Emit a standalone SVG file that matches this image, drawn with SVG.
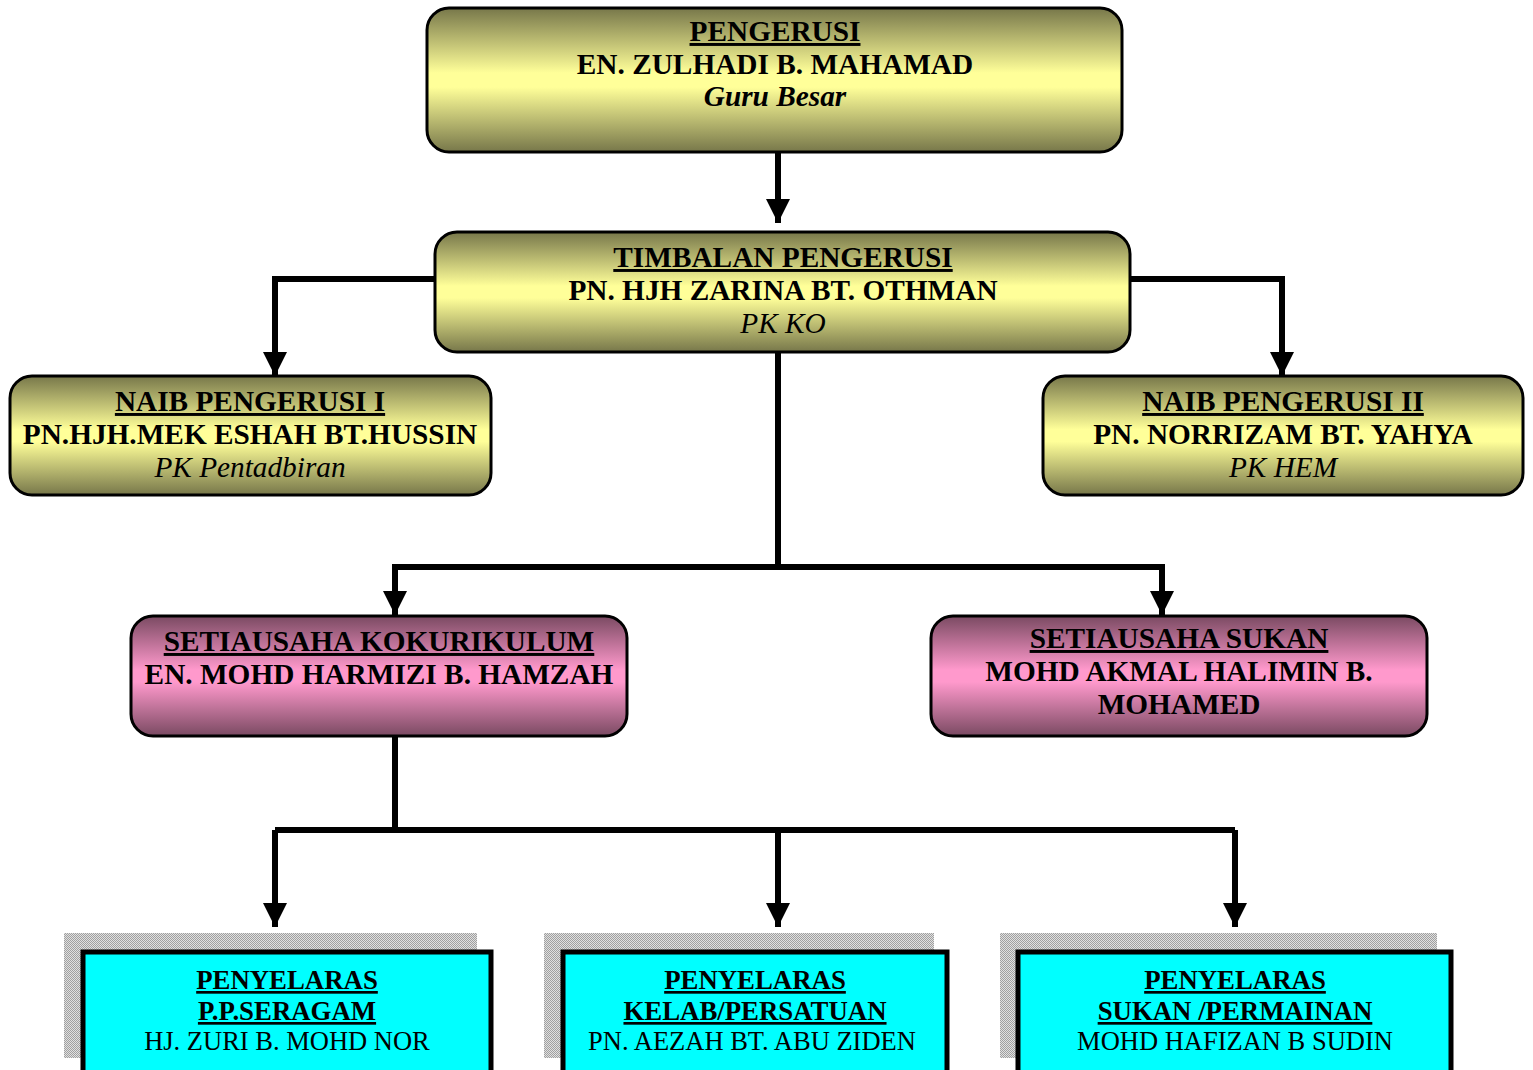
<svg xmlns="http://www.w3.org/2000/svg" width="1533" height="1070" viewBox="0 0 1533 1070">
<defs>
<linearGradient id="gy" x1="0" y1="0" x2="0" y2="1">
<stop offset="0" stop-color="#77774a"/>
<stop offset="0.45" stop-color="#ffff99"/>
<stop offset="0.55" stop-color="#ffff99"/>
<stop offset="1" stop-color="#77774a"/>
</linearGradient>
<linearGradient id="gp" x1="0" y1="0" x2="0" y2="1">
<stop offset="0" stop-color="#7a4a62"/>
<stop offset="0.45" stop-color="#ff99cc"/>
<stop offset="0.55" stop-color="#ff99cc"/>
<stop offset="1" stop-color="#7a4a62"/>
</linearGradient>
<pattern id="dots" width="2" height="2" patternUnits="userSpaceOnUse">
<rect width="2" height="2" fill="#e0e0e0"/>
<rect width="1" height="1" fill="#a0a0a0"/>
<rect x="1" y="1" width="1" height="1" fill="#a0a0a0"/>
</pattern>
<marker id="ah" viewBox="0 0 10 10" refX="10" refY="5" markerWidth="4" markerHeight="4.2" markerUnits="strokeWidth" orient="auto">
<path d="M0,0 L10,5 L0,10 z" fill="#000"/>
</marker>
</defs>
<style>
.ry{fill:url(#gy);stroke:#000;stroke-width:3}
.rp{fill:url(#gp);stroke:#000;stroke-width:3}
.shadow{fill:url(#dots)}
.rc{fill:#00ffff;stroke:#000;stroke-width:5}
text{font-family:"Liberation Serif","Times New Roman",serif;font-size:29.3px;text-anchor:middle;fill:#000}
.b{font-weight:bold}
.u{text-decoration:underline}
.i{font-style:italic}
.bs{font-size:26.8px}
.rs{font-size:26.5px}
.c line,.c polyline{stroke:#000;stroke-width:6;fill:none}
</style>
<g class="c" id="connectors">
<line x1="778" y1="152" x2="778" y2="223" marker-end="url(#ah)"/>
<polyline points="435,279 275,279 275,376" marker-end="url(#ah)"/>
<polyline points="1130,279 1282,279 1282,376" marker-end="url(#ah)"/>
<line x1="778" y1="352" x2="778" y2="567"/>
<polyline points="395,614 395,567 1162,567 1162,614"/>
<line x1="395" y1="567" x2="395" y2="615" marker-end="url(#ah)"/>
<line x1="1162" y1="567" x2="1162" y2="615" marker-end="url(#ah)"/>
<line x1="395" y1="736" x2="395" y2="830"/>
<polyline points="275,830 1235,830"/>
<line x1="275" y1="830" x2="275" y2="927" marker-end="url(#ah)"/>
<line x1="778" y1="830" x2="778" y2="927" marker-end="url(#ah)"/>
<line x1="1235" y1="830" x2="1235" y2="927" marker-end="url(#ah)"/>
</g>
<g id="pengerusi">
<rect class="ry" x="427" y="8" width="695" height="144" rx="22"/>
<text x="775" y="41" class="b u">PENGERUSI</text>
<text x="775" y="74" class="b">EN. ZULHADI B. MAHAMAD</text>
<text x="775" y="106" class="b i">Guru Besar</text>
</g>
<g id="timbalan">
<rect class="ry" x="435" y="232" width="695" height="120" rx="22"/>
<text x="783" y="267" class="b u">TIMBALAN PENGERUSI</text>
<text x="783" y="300" class="b">PN. HJH ZARINA BT. OTHMAN</text>
<text x="783" y="333" class="i">PK KO</text>
</g>
<g id="naib1">
<rect class="ry" x="10" y="376" width="481" height="119" rx="22"/>
<text x="250" y="411" class="b u">NAIB PENGERUSI I</text>
<text x="250" y="444" class="b">PN.HJH.MEK ESHAH BT.HUSSIN</text>
<text x="250" y="477" class="i">PK Pentadbiran</text>
</g>
<g id="naib2">
<rect class="ry" x="1043" y="376" width="480" height="119" rx="22"/>
<text x="1283" y="411" class="b u">NAIB PENGERUSI II</text>
<text x="1283" y="444" class="b">PN. NORRIZAM BT. YAHYA</text>
<text x="1283" y="477" class="i">PK HEM</text>
</g>
<g id="setiausaha-kokurikulum">
<rect class="rp" x="131" y="616" width="496" height="120" rx="22"/>
<text x="379" y="651" class="b u">SETIAUSAHA KOKURIKULUM</text>
<text x="379" y="684" class="b">EN. MOHD HARMIZI B. HAMZAH</text>
</g>
<g id="setiausaha-sukan">
<rect class="rp" x="931" y="616" width="496" height="120" rx="22"/>
<text x="1179" y="648" class="b u">SETIAUSAHA SUKAN</text>
<text x="1179" y="681" class="b">MOHD AKMAL HALIMIN B.</text>
<text x="1179" y="714" class="b">MOHAMED</text>
</g>
<g id="penyelaras-seragam">
<rect class="shadow" x="64" y="933" width="413" height="125"/>
<rect class="rc" x="83" y="952" width="408" height="125"/>
<text x="287" y="989" class="b u bs">PENYELARAS</text>
<text x="287" y="1020" class="b u bs">P.P.SERAGAM</text>
<text x="287" y="1050" class="rs">HJ. ZURI B. MOHD NOR</text>
</g>
<g id="penyelaras-kelab">
<rect class="shadow" x="544" y="933" width="390" height="125"/>
<rect class="rc" x="563" y="952" width="384" height="125"/>
<text x="755" y="989" class="b u bs">PENYELARAS</text>
<text x="755" y="1020" class="b u bs">KELAB/PERSATUAN</text>
<text x="752" y="1050" class="rs">PN. AEZAH BT. ABU ZIDEN</text>
</g>
<g id="penyelaras-sukan">
<rect class="shadow" x="1000" y="933" width="437" height="125"/>
<rect class="rc" x="1018" y="952" width="433" height="125"/>
<text x="1235" y="989" class="b u bs">PENYELARAS</text>
<text x="1235" y="1020" class="b u bs">SUKAN /PERMAINAN</text>
<text x="1235" y="1050" class="rs">MOHD HAFIZAN B SUDIN</text>
</g>
</svg>
